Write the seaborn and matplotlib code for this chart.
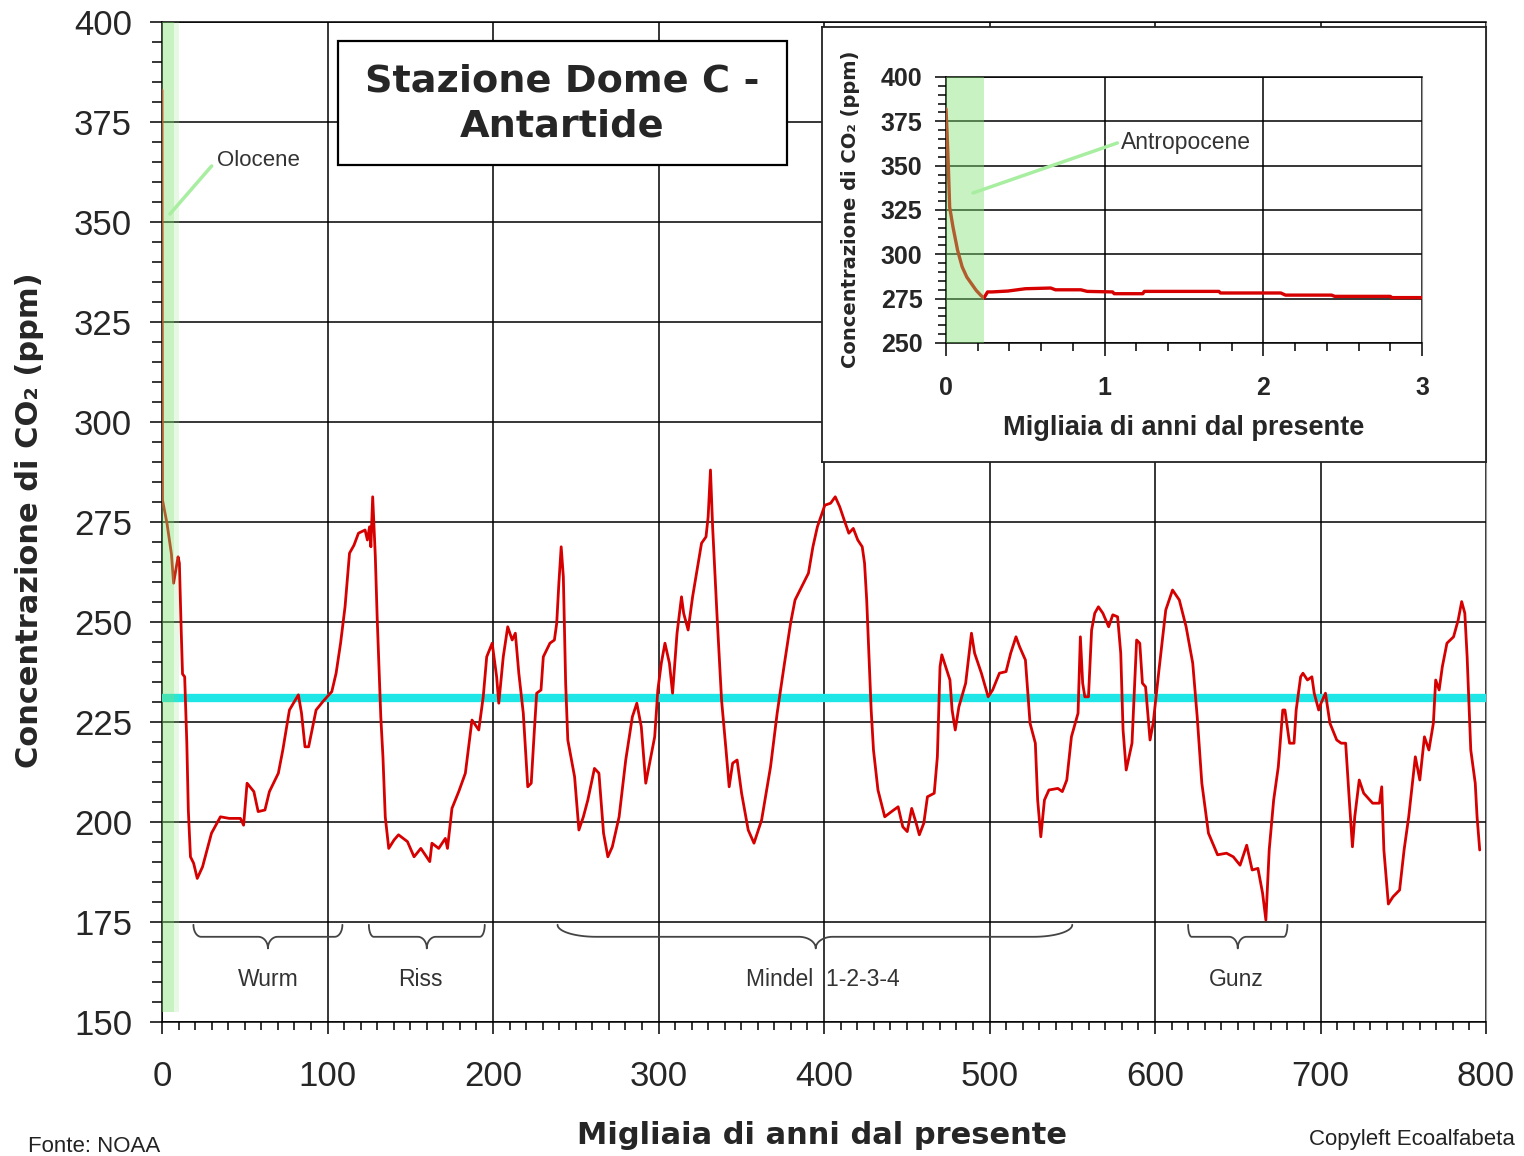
import numpy as np
import matplotlib
matplotlib.use("Agg")
import matplotlib.pyplot as plt
import seaborn as sns
from matplotlib.patches import Rectangle
from matplotlib.ticker import MultipleLocator

sns.set_style("ticks")
plt.rcParams['font.family'] = ['Liberation Sans', 'DejaVu Sans']

# CO2 Dome C (migliaia di anni dal presente, ppm)
kyr = [0, 0.1, 0.2, 0.3, 3, 5.7, 7, 9.7, 10.5, 11.6, 12.4, 13.7, 15, 15.9, 17.2, 19.1, 21.3, 24.5,
       29.9, 35.3, 40.6, 47.4, 49.3, 51.4, 55.5, 58.1, 62.2, 64.9, 70.3, 73, 77, 82.4, 84.3, 86.4,
       88.6, 93.1, 97.2, 102.6, 105.2, 107.9, 110.6, 113.3, 116, 118.7, 122.7, 124.1, 125.4, 126.2,
       127.3, 128.9, 130, 132.2, 133.5, 134.9, 137, 140.2, 142.9, 148.3, 152.3, 156.4, 161.8, 163.1,
       167.2, 171.2, 172.5, 175.2, 179.3, 183.3, 187.3, 191.4, 194.1, 196.2, 199.5, 202.2, 203.5,
       206.2, 208.9, 211.6, 213.5, 215.6, 218.3, 221, 223.1, 225, 226.4, 229, 230.4, 234.4, 237.1,
       238.5, 239.8, 241.2, 242.5, 243.9, 245.2, 249.3, 251.9, 254.6, 257.3, 261.3, 264, 266.8,
       269.4, 272.1, 276.2, 280.2, 284.2, 286.9, 289.6, 292.3, 295, 297.7, 299.6, 301.7, 303.9,
       306.6, 308.5, 311.2, 313.9, 315.2, 317.9, 320.6, 326, 328.7, 330, 331.4, 332.7, 335.4, 338.1,
       340.8, 342.7, 344.8, 347.5, 350.2, 354.2, 357.7, 362.3, 367.7, 371.7, 375.8, 379.8, 382.5,
       386.5, 390.6, 393.3, 396, 400.5, 404, 406.8, 409.5, 412.2, 415, 417.7, 420.4, 423.1, 424.5,
       425.8, 427.2, 428.5, 429.9, 432.6, 436.7, 440.8, 444.8, 447.6, 450.3, 453, 455.7, 457.6,
       460.3, 462.5, 466.6, 468.5, 470.1, 471.2, 476.1, 477.4, 479.3, 481.5, 485.6, 489.1, 491,
       495.1, 499.2, 501.9, 506, 510, 512.8, 516, 518.2, 521.7, 524.5, 527.7, 529.1, 531, 533.2,
       535.9, 541.3, 544, 546.7, 549.5, 553.5, 554.9, 556.3, 557.6, 559.8, 561.7, 563.6, 565.8,
       568.5, 572, 574.5, 577.4, 579.3, 580.7, 582.6, 586.1, 588.9, 590.8, 592.4, 594.3, 597, 598.9,
       602.4, 606.5, 610.6, 614.7, 618.8, 622.8, 625.5, 628.3, 632.3, 637.8, 643.2, 647.3, 651.4,
       655.4, 658.7, 662.2, 665, 667, 669, 671.7, 674.5, 677.2, 678.5, 681.3, 684, 685.3, 688, 689.4,
       692.1, 694.8, 696.2, 698.9, 700.3, 703, 705.7, 709.8, 712.5, 715.2, 717.4, 719.3, 720.7,
       723.4, 726.1, 731.5, 735.6, 737, 738.3, 741, 743.8, 747.8, 750.5, 753.3, 757.3, 760, 762.8,
       765.5, 768.2, 769.6, 771.7, 773.6, 776.4, 780.4, 783.2, 785.3, 787.2, 788.6, 790.8, 793.5,
       794.6, 796.2]
co2 = [383, 345, 300, 280.5, 274.7, 267, 259.7, 266.3, 264.7, 248, 237, 236.3, 219.7, 203, 191.3,
       189.7, 185.9, 188.8, 197.2, 201.3, 200.9, 200.9, 199.2, 209.7, 207.6, 202.6, 203, 207.6,
       212.2, 218, 228, 231.8, 227.2, 218.8, 218.8, 228, 230.1, 232.6, 237.2, 244.7, 253.8, 267.2,
       269.2, 272.2, 273, 270.5, 273.8, 268.8, 281.3, 266.3, 251.3, 226.3, 216.3, 201.3, 193.4,
       195.5, 196.8, 195.1, 191.3, 193.4, 190.1, 194.7, 193.4, 195.9, 193.4, 203.4, 207.6, 212.2,
       225.5, 223, 231.3, 241.3, 244.7, 236.3, 229.7, 241.3, 248.8, 245.5, 247.2, 237.2, 227.2,
       208.8, 209.7, 223, 232.2, 233, 241.3, 244.7, 245.5, 249.7, 259.7, 268.8, 261.3, 234.7, 220.5,
       211.3, 198, 201.3, 205.5, 213.4, 212.2, 197.2, 191.3, 193.8, 201.3, 215.5, 226.3, 229.7,
       223.8, 209.7, 215.5, 221.3, 233, 239.7, 244.7, 239.7, 232.2, 247.2, 256.3, 252.2, 248, 256.3,
       269.7, 271.3, 276.3, 288, 273.8, 251.3, 230.5, 218, 208.8, 214.7, 215.5, 207.2, 198, 194.7,
       200.5, 213.8, 227.2, 238.8, 249.7, 255.5, 258.8, 262.2, 268.8, 273.8, 279.2, 279.7, 281.3,
       278.8, 275.5, 272.2, 273.4, 270.5, 268.8, 264.7, 255.5, 241.3, 228, 218, 208, 201.3, 202.6,
       203.8, 198.8, 197.6, 203.4, 199.7, 196.8, 199.7, 206.3, 207.2, 216.3, 238.8, 241.8, 235.5,
       228, 223, 228.8, 234.7, 247.2, 242.2, 237.2, 231.3, 233, 237.2, 237.6, 242.2, 246.3, 243.8,
       240.5, 224.7, 219.7, 205.5, 196.3, 205.5, 208, 208.4, 207.6, 210.5, 221.3, 227.2, 246.3,
       234.7, 231.3, 231.3, 248, 252.2, 253.8, 252.2, 248.8, 251.8, 251.3, 242.2, 223, 213, 219.7,
       245.5, 244.7, 234.7, 233.8, 220.5, 224.7, 238, 253, 258, 255.5, 248.8, 239.7, 226.3, 209.7,
       197.2, 191.8, 192.2, 191.3, 189.2, 194.2, 188, 188.4, 182.2, 175.5, 193, 205.5, 213.8, 228,
       228, 219.7, 219.7, 228, 236.3, 237.2, 235.5, 236.3, 232.2, 228, 229.7, 232.2, 224.7, 220.5,
       219.7, 219.7, 205.5, 193.8, 201.3, 210.5, 207.2, 204.7, 204.7, 208.8, 193, 179.5, 181.3, 183,
       193, 201.3, 216.3, 210.5, 221.3, 218, 224.7, 235.5, 233, 238.8, 244.7, 246.3, 250.5, 255.1,
       252.2, 241.3, 218, 209.7, 201.3, 193]

# dettaglio ultimi 3000 anni
inset_kyr = [0, 0.006, 0.015, 0.023, 0.044, 0.073, 0.102, 0.131, 0.16, 0.19, 0.219, 0.239, 0.262,
             0.29, 0.39, 0.5, 0.66, 0.69, 0.85, 0.89, 1.05, 1.06, 1.24, 1.25, 1.72, 1.73, 2.11,
             2.14, 2.43, 2.45, 2.8, 2.81, 3.0]
inset_co2 = [382, 370, 349, 326.7, 315.4, 302.3, 292.9, 287.2, 283.5, 279.7, 276.9, 275.4, 278.8,
             278.8, 279.3, 280.6, 281, 280, 280, 279.1, 278.8, 277.8, 277.8, 279.1, 279.1, 278.2,
             278.2, 277, 277, 276.3, 276.3, 275.6, 275.6]

media_co2 = 231
olocene_fine = 9
antropocene_fine = 0.24

ere = ["Wurm", "Riss", "Mindel  1-2-3-4", "Gunz"]
ere_inizio = [19, 125, 239, 620]
ere_fine = [109, 195, 550, 680]
ere_centro = [64, 160, 395, 650]
ere_testo = [64, 156, 399, 649]

ROSSO = '#d60000'
VERDE = '#7fe070'


def graffa(ax, x0, x1, xc, ytop=174.3, yflat=171.3, ybot=168.4):
    span = x1 - x0
    re = 0.085 * span - 3
    rm = 0.02 * span + 4
    t = np.linspace(0, np.pi / 2, 25)
    xs = np.concatenate([
        x0 + re * (1 - np.cos(t)),
        xc - rm + rm * np.sin(t),
        (xc + rm - rm * np.sin(t))[::-1],
        (x1 - re * (1 - np.cos(t)))[::-1],
    ])
    ys = np.concatenate([
        yflat + (ytop - yflat) * (1 - np.sin(t)),
        yflat - (yflat - ybot) * (1 - np.cos(t)),
        (yflat - (yflat - ybot) * (1 - np.cos(t)))[::-1],
        (yflat + (ytop - yflat) * (1 - np.sin(t)))[::-1],
    ])
    ax.plot(xs, ys, color='#444444', lw=1.3, zorder=4, solid_capstyle='round')


fig = plt.figure(figsize=(15.24, 11.56), dpi=100)

# grafico principale
ax = fig.add_axes([162 / 1524, 1 - 1022 / 1156, 1324 / 1524, 1000 / 1156])
ax.axvspan(0, olocene_fine - 1.5, ymin=0.01, color=VERDE, alpha=0.42, lw=0, zorder=3.2)
ax.axvspan(olocene_fine - 1.5, olocene_fine + 1, ymin=0.01, color=VERDE, alpha=0.18, lw=0, zorder=3.2)
ax.axhline(media_co2, color='#1ee6e6', lw=6, zorder=2.8)
sns.lineplot(x=kyr, y=co2, ax=ax, color=ROSSO, lw=2.0, estimator=None, zorder=3)

ax.set_xlim(0, 800)
ax.set_ylim(150, 400)
ax.xaxis.set_major_locator(MultipleLocator(100))
ax.xaxis.set_minor_locator(MultipleLocator(10))
ax.yaxis.set_major_locator(MultipleLocator(25))
ax.yaxis.set_minor_locator(MultipleLocator(5))
ax.grid(True, which='major', color='black', lw=1.1)
ax.set_axisbelow(True)
ax.tick_params(which='both', color='black', width=1.1)
ax.tick_params(axis='y', which='major', length=8.5, labelsize=25, pad=13)
ax.tick_params(axis='y', which='minor', length=7)
ax.tick_params(axis='x', which='major', length=8.5, labelsize=25, pad=19)
ax.tick_params(axis='x', which='minor', length=6)
for s in ['left', 'bottom', 'top']:
    ax.spines[s].set_color('black')
    ax.spines[s].set_linewidth(1.1)
ax.spines['right'].set_color('#999999')
ax.set_xlabel('')
ax.set_ylabel('')

for nome, a, b, c, tx in zip(ere, ere_inizio, ere_fine, ere_centro, ere_testo):
    graffa(ax, a, b, c)
    ax.text(tx, 160.75, nome, ha='center', va='center', fontsize=16.5, color='#333333')

ax.plot([4.8, 30], [352, 364], color='#a8eea0', lw=2.5, zorder=4)
ax.text(33, 365.5, "Olocene", va='center', ha='left', fontsize=16, color='#333333')

fig.text(30 / 1524, 1 - 520 / 1156, "Concentrazione di CO₂ (ppm)", rotation=90,
         ha='center', va='center', fontsize=22, fontweight='bold', family='DejaVu Sans')
fig.text(822 / 1524, 1 - 1135 / 1156, "Migliaia di anni dal presente",
         ha='center', va='center', fontsize=22, fontweight='bold', family='DejaVu Sans')
fig.text(28 / 1524, 1 - 1147 / 1156, "Fonte: NOAA", ha='left', va='center', fontsize=16, color='#222222')
fig.text(1515 / 1524, 1 - 1140 / 1156, "Copyleft Ecoalfabeta", ha='right', va='center',
         fontsize=16, color='#222222')

# titolo
fig.add_artist(Rectangle((338 / 1524, 1 - 165 / 1156), 449 / 1524, 124 / 1156,
                         transform=fig.transFigure, fc='white', ec='black', lw=1.6, zorder=5))
fig.text(562 / 1524, 1 - 104 / 1156, "Stazione Dome C -\nAntartide", ha='center', va='center',
         fontsize=27.5, fontweight='bold', family='DejaVu Sans', linespacing=1.32, zorder=6)

# riquadro
box = fig.add_axes([822 / 1524, 1 - 462 / 1156, 664 / 1524, 435 / 1156], zorder=5)
box.set_xticks([])
box.set_yticks([])
box.set_facecolor('white')
for s in box.spines.values():
    s.set_color('#222222')
    s.set_linewidth(1.3)

ins = fig.add_axes([946 / 1524, 1 - 343 / 1156, 476 / 1524, 266 / 1156], zorder=6)
ins.axvspan(0, antropocene_fine, color=VERDE, alpha=0.42, lw=0, zorder=3.2)
sns.lineplot(x=inset_kyr, y=inset_co2, ax=ins, color=ROSSO, lw=2.4, estimator=None, zorder=3)
ins.set_xlim(0, 3)
ins.set_ylim(250, 400)
ins.xaxis.set_major_locator(MultipleLocator(1))
ins.xaxis.set_minor_locator(MultipleLocator(0.2))
ins.yaxis.set_major_locator(MultipleLocator(25))
ins.yaxis.set_minor_locator(MultipleLocator(5))
ins.grid(True, which='major', color='black', lw=1.1)
ins.set_axisbelow(True)
ins.tick_params(which='both', color='black', width=1.1)
ins.tick_params(axis='y', which='major', length=8, labelsize=18, pad=9)
ins.tick_params(axis='y', which='minor', length=6)
ins.tick_params(axis='x', which='major', length=9, labelsize=18, pad=15)
ins.tick_params(axis='x', which='minor', length=6)
for lab in ins.get_xticklabels() + ins.get_yticklabels():
    lab.set_fontweight('bold')
for s in ['left', 'bottom', 'top']:
    ins.spines[s].set_color('black')
    ins.spines[s].set_linewidth(1.1)
ins.spines['right'].set_color('#999999')
ins.set_xlabel('')
ins.set_ylabel('')
ins.plot([0.17, 1.08], [334.6, 362.8], color='#a8eea0', lw=2.5, zorder=4)
ins.text(1.1, 362.8, "Antropocene", va='center', ha='left', fontsize=16.5, color='#333333')

fig.text(1184 / 1524, 1 - 428 / 1156, "Migliaia di anni dal presente", ha='center', va='center',
         fontsize=19.5, fontweight='bold', zorder=7)
fig.text(850 / 1524, 1 - 209 / 1156, "Concentrazione di CO₂ (ppm)", rotation=90, ha='center',
         va='center', fontsize=14, fontweight='bold', family='DejaVu Sans', zorder=7)

fig.savefig("out.png", dpi=100)
